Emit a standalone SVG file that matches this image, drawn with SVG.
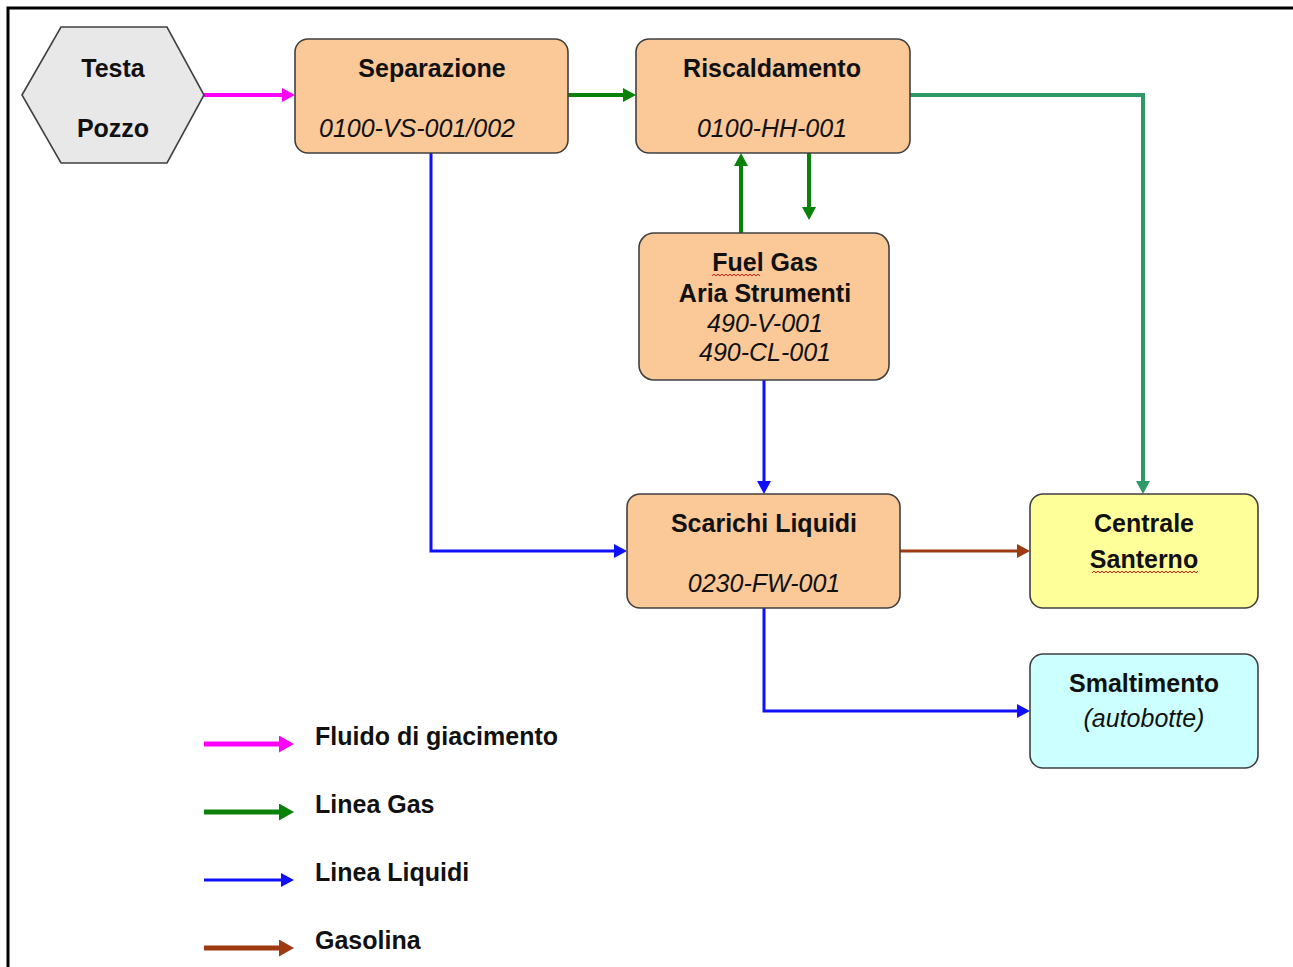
<svg xmlns="http://www.w3.org/2000/svg" width="1293" height="967" viewBox="0 0 1293 967">
<style>
.box{stroke:#404040;stroke-width:1.6}
.peach{fill:#fbc898}
.t{font-family:"Liberation Sans",Arial,sans-serif;font-size:25px;fill:#111;text-anchor:middle}
.b{font-weight:bold}
.i{font-style:italic}
.lg{font-family:"Liberation Sans",Arial,sans-serif;font-size:25px;font-weight:bold;fill:#111}
.c{fill:none;stroke-linejoin:miter}
.sq{fill:none;stroke:#e02020;stroke-width:1}
</style>
<defs>
<marker id="hM" markerUnits="userSpaceOnUse" markerWidth="13" markerHeight="14" refX="0" refY="7" orient="auto"><path d="M0,0 L13,7 L0,14 z" fill="#ff00ff"/></marker>
<marker id="hG" markerUnits="userSpaceOnUse" markerWidth="13" markerHeight="14" refX="0" refY="7" orient="auto"><path d="M0,0 L13,7 L0,14 z" fill="#0a820a"/></marker>
<marker id="hS" markerUnits="userSpaceOnUse" markerWidth="13" markerHeight="14" refX="0" refY="7" orient="auto"><path d="M0,0 L13,7 L0,14 z" fill="#2e9966"/></marker>
<marker id="hB" markerUnits="userSpaceOnUse" markerWidth="13" markerHeight="14" refX="0" refY="7" orient="auto"><path d="M0,0 L13,7 L0,14 z" fill="#1010ff"/></marker>
<marker id="hR" markerUnits="userSpaceOnUse" markerWidth="13" markerHeight="14" refX="0" refY="7" orient="auto"><path d="M0,0 L13,7 L0,14 z" fill="#9e3a12"/></marker>
<marker id="lM" markerUnits="userSpaceOnUse" markerWidth="15" markerHeight="17" refX="0" refY="8.5" orient="auto"><path d="M0,0 L15,8.5 L0,17 z" fill="#ff00ff"/></marker>
<marker id="lG" markerUnits="userSpaceOnUse" markerWidth="15" markerHeight="17" refX="0" refY="8.5" orient="auto"><path d="M0,0 L15,8.5 L0,17 z" fill="#0a820a"/></marker>
<marker id="lB" markerUnits="userSpaceOnUse" markerWidth="13" markerHeight="14" refX="0" refY="7" orient="auto"><path d="M0,0 L13,7 L0,14 z" fill="#1010ff"/></marker>
<marker id="lR" markerUnits="userSpaceOnUse" markerWidth="15" markerHeight="17" refX="0" refY="8.5" orient="auto"><path d="M0,0 L15,8.5 L0,17 z" fill="#9e3a12"/></marker>
</defs>
<rect width="1293" height="967" fill="#ffffff"/>
<g id="frame" fill="none" stroke="#000" stroke-width="3">
<path d="M8,967 V8 H1293"/>
</g>
<g id="connectors" class="c">
<path d="M204,95 H282" stroke="#ff00ff" stroke-width="4" marker-end="url(#hM)"/>
<path d="M568,95 H623" stroke="#0a820a" stroke-width="4" marker-end="url(#hG)"/>
<path d="M741,233 V166" stroke="#0a820a" stroke-width="4" marker-end="url(#hG)"/>
<path d="M809,153 V207" stroke="#0a820a" stroke-width="4" marker-end="url(#hG)"/>
<path d="M910,95 H1143 V481" stroke="#2e9966" stroke-width="4" marker-end="url(#hS)"/>
<path d="M431,153 V551 H614" stroke="#1010ff" stroke-width="3" marker-end="url(#hB)"/>
<path d="M764,380 V481" stroke="#1010ff" stroke-width="3" marker-end="url(#hB)"/>
<path d="M764,608 V711 H1017" stroke="#1010ff" stroke-width="3" marker-end="url(#hB)"/>
<path d="M900,551 H1017" stroke="#9e3a12" stroke-width="3" marker-end="url(#hR)"/>
</g>
<g id="testa-pozzo">
<polygon class="box" points="22,95 61,27 167,27 204,95 167,163 61,163" fill="#e8e8e8"/>
<text class="t b" x="113" y="77">Testa</text>
<text class="t b" x="113" y="137">Pozzo</text>
</g>
<g id="separazione">
<rect class="box peach" x="295" y="39" width="273" height="114" rx="13"/>
<text class="t b" x="432" y="77">Separazione</text>
<text class="t i" x="417" y="137">0100-VS-001/002</text>
</g>
<g id="riscaldamento">
<rect class="box peach" x="636" y="39" width="274" height="114" rx="13"/>
<text class="t b" x="772" y="77">Riscaldamento</text>
<text class="t i" x="772" y="137">0100-HH-001</text>
</g>
<g id="fuel-gas">
<rect class="box peach" x="639" y="233" width="250" height="147" rx="15"/>
<text class="t b" x="765" y="271">Fuel Gas</text>
<path class="sq" d="M712,276 l2,-2 2,2 2,-2 2,2 2,-2 2,2 2,-2 2,2 2,-2 2,2 2,-2 2,2 2,-2 2,2 2,-2 2,2 2,-2 2,2 2,-2 2,2 2,-2 2,2 2,-2 2,2"/>
<text class="t b" x="765" y="302">Aria Strumenti</text>
<text class="t i" x="765" y="332">490-V-001</text>
<text class="t i" x="765" y="361">490-CL-001</text>
</g>
<g id="scarichi-liquidi">
<rect class="box peach" x="627" y="494" width="273" height="114" rx="13"/>
<text class="t b" x="764" y="532">Scarichi Liquidi</text>
<text class="t i" x="764" y="592">0230-FW-001</text>
</g>
<g id="centrale-santerno">
<rect class="box" x="1030" y="494" width="228" height="114" rx="13" fill="#ffff99"/>
<text class="t b" x="1144" y="532">Centrale</text>
<text class="t b" x="1144" y="568">Santerno</text>
<path class="sq" d="M1092,573 l2,-2 2,2 2,-2 2,2 2,-2 2,2 2,-2 2,2 2,-2 2,2 2,-2 2,2 2,-2 2,2 2,-2 2,2 2,-2 2,2 2,-2 2,2 2,-2 2,2 2,-2 2,2 2,-2 2,2 2,-2 2,2 2,-2 2,2 2,-2 2,2 2,-2 2,2 2,-2 2,2 2,-2 2,2 2,-2 2,2 2,-2 2,2 2,-2 2,2 2,-2 2,2 2,-2 2,2 2,-2 2,2 2,-2 2,2 2,-2"/>
</g>
<g id="smaltimento">
<rect class="box" x="1030" y="654" width="228" height="114" rx="13" fill="#ccffff"/>
<text class="t b" x="1144" y="692">Smaltimento</text>
<text class="t i" x="1144" y="727">(autobotte)</text>
</g>
<g id="legend">
<path d="M204,744 H279" stroke="#ff00ff" stroke-width="5" marker-end="url(#lM)"/>
<text class="lg" x="315" y="745">Fluido di giacimento</text>
<path d="M204,812 H279" stroke="#0a820a" stroke-width="5" marker-end="url(#lG)"/>
<text class="lg" x="315" y="813">Linea Gas</text>
<path d="M204,880 H281" stroke="#1010ff" stroke-width="3" marker-end="url(#lB)"/>
<text class="lg" x="315" y="881">Linea Liquidi</text>
<path d="M204,948 H279" stroke="#9e3a12" stroke-width="5" marker-end="url(#lR)"/>
<text class="lg" x="315" y="949">Gasolina</text>
</g>
</svg>
